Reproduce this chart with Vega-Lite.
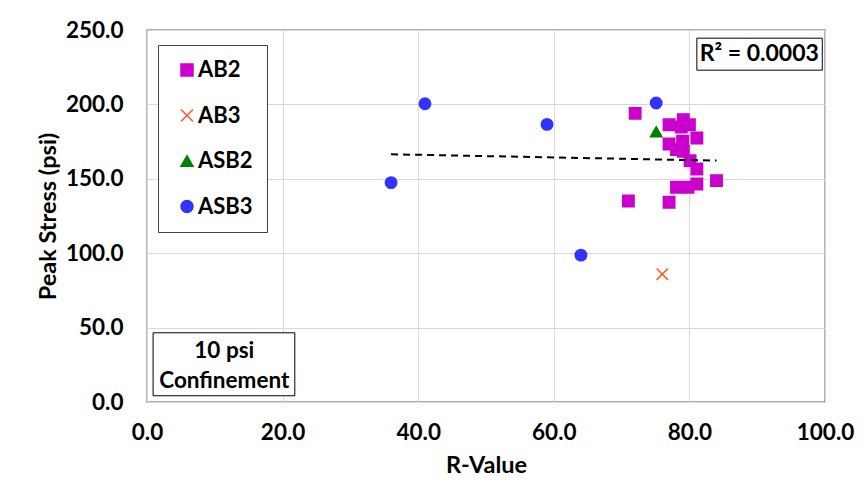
{
  "$schema": "https://vega.github.io/schema/vega-lite/v6.json",
  "width": 678,
  "height": 372,
  "autosize": {"type": "none"},
  "padding": {"left": 147, "top": 30, "right": 43, "bottom": 96},
  "background": "white",
  "config": {
    "font": "Lato",
    "view": {"stroke": "#595959", "strokeWidth": 1.3},
    "axis": {
      "labelFont": "Lato", "labelFontWeight": "bold", "labelFontSize": 22.5, "labelColor": "#000",
      "titleFont": "Lato", "titleFontWeight": "bold", "titleFontSize": 23.5, "titleColor": "#000",
      "gridColor": "#d9d9d9", "domain": false, "ticks": false, "labelFlush": false, "labelOverlap": false
    },
    "legend": {
      "orient": "none", "legendX": 11, "legendY": 15,
      "strokeColor": "#404040", "fillColor": "white", "padding": 14,
      "labelFont": "Lato", "labelFontSize": 22, "labelFontWeight": "bold", "labelColor": "#000",
      "symbolSize": 144, "symbolStrokeWidth": 1.5, "rowPadding": 23.5, "labelOffset": 0, "symbolOffset": 4
    }
  },
  "data": {"values": [
    {"series": "AB2", "r": 72.0, "stress": 194.0},
    {"series": "AB2", "r": 79.1, "stress": 189.8},
    {"series": "AB2", "r": 77.0, "stress": 186.3},
    {"series": "AB2", "r": 80.0, "stress": 186.3},
    {"series": "AB2", "r": 78.8, "stress": 184.8},
    {"series": "AB2", "r": 81.1, "stress": 177.4},
    {"series": "AB2", "r": 77.0, "stress": 173.4},
    {"series": "AB2", "r": 79.0, "stress": 175.2},
    {"series": "AB2", "r": 78.1, "stress": 169.6},
    {"series": "AB2", "r": 79.1, "stress": 168.5},
    {"series": "AB2", "r": 80.1, "stress": 162.2},
    {"series": "AB2", "r": 81.1, "stress": 156.6},
    {"series": "AB2", "r": 84.0, "stress": 148.8},
    {"series": "AB2", "r": 81.1, "stress": 146.5},
    {"series": "AB2", "r": 78.1, "stress": 144.3},
    {"series": "AB2", "r": 79.8, "stress": 144.3},
    {"series": "AB2", "r": 77.0, "stress": 134.2},
    {"series": "AB2", "r": 71.0, "stress": 135.1},
    {"series": "AB3", "r": 76.0, "stress": 85.9},
    {"series": "ASB2", "r": 75.1, "stress": 181.6},
    {"series": "ASB3", "r": 36.0, "stress": 147.4},
    {"series": "ASB3", "r": 41.0, "stress": 200.4},
    {"series": "ASB3", "r": 59.0, "stress": 186.6},
    {"series": "ASB3", "r": 64.0, "stress": 98.7},
    {"series": "ASB3", "r": 75.1, "stress": 200.9}
  ]},
  "layer": [
    {
      "mark": {"type": "point", "size": 130, "strokeWidth": 1.5, "opacity": 1},
      "encoding": {
        "x": {"field": "r", "type": "quantitative",
              "scale": {"domain": [0, 100], "nice": false},
              "axis": {"values": [0, 20, 40, 60, 80, 100], "format": ".1f", "labelPadding": 19, "titlePadding": 10, "grid": true},
              "title": "R-Value"},
        "y": {"field": "stress", "type": "quantitative",
              "scale": {"domain": [0, 250], "nice": false},
              "axis": {"values": [0, 50, 100, 150, 200, 250], "format": ".1f", "labelPadding": 24, "titlePadding": 5, "grid": true},
              "title": "Peak Stress (psi)"},
        "fill": {"field": "series", "type": "nominal", "title": null,
                 "scale": {"domain": ["AB2", "AB3", "ASB2", "ASB3"], "range": ["#CC00CC", "transparent", "#008000", "#3333FF"]}},
        "stroke": {"field": "series", "type": "nominal", "title": null,
                   "scale": {"domain": ["AB2", "AB3", "ASB2", "ASB3"], "range": ["#CC00CC", "#FF5A1F", "#008000", "#3333FF"]}},
        "shape": {"field": "series", "type": "nominal", "title": null,
                  "scale": {"domain": ["AB2", "AB3", "ASB2", "ASB3"], "range": ["square", "M-1,-1L1,1M1,-1L-1,1", "triangle-up", "circle"]}}
      }
    },
    {
      "mark": {"type": "line", "color": "black", "strokeDash": [7, 5], "strokeWidth": 2},
      "transform": [{"regression": "stress", "on": "r"}],
      "encoding": {
        "x": {"field": "r", "type": "quantitative"},
        "y": {"field": "stress", "type": "quantitative"}
      }
    },
    {
      "data": {"values": [{"t": "R² = 0.0003"}]},
      "mark": {"type": "rect", "fill": "white", "stroke": "#000", "strokeWidth": 1},
      "encoding": {
        "x": {"datum": 81.1, "type": "quantitative"}, "x2": {"datum": 99.6},
        "y": {"datum": 244.5, "type": "quantitative"}, "y2": {"datum": 223.0}
      }
    },
    {
      "data": {"values": [{"t": "R² = 0.0003"}]},
      "mark": {"type": "text", "font": "Lato", "fontSize": 23, "fontWeight": "bold", "color": "#000", "baseline": "middle", "align": "center"},
      "encoding": {
        "x": {"datum": 90.3, "type": "quantitative"},
        "y": {"datum": 233.8, "type": "quantitative"},
        "text": {"field": "t"}
      }
    },
    {
      "data": {"values": [{"t": "10 psi\nConfinement"}]},
      "mark": {"type": "rect", "fill": "white", "stroke": "#000", "strokeWidth": 1},
      "encoding": {
        "x": {"datum": 0.9, "type": "quantitative"}, "x2": {"datum": 21.8},
        "y": {"datum": 46.5, "type": "quantitative"}, "y2": {"datum": 4.2}
      }
    },
    {
      "data": {"values": [{"t": "10 psi\nConfinement"}]},
      "mark": {"type": "text", "font": "Lato", "fontSize": 22.5, "fontWeight": "bold", "color": "#000", "baseline": "middle", "align": "center", "lineBreak": "\n", "lineHeight": 30},
      "encoding": {
        "x": {"datum": 11.4, "type": "quantitative"},
        "y": {"datum": 34.4, "type": "quantitative"},
        "text": {"field": "t"}
      }
    }
  ]
}
